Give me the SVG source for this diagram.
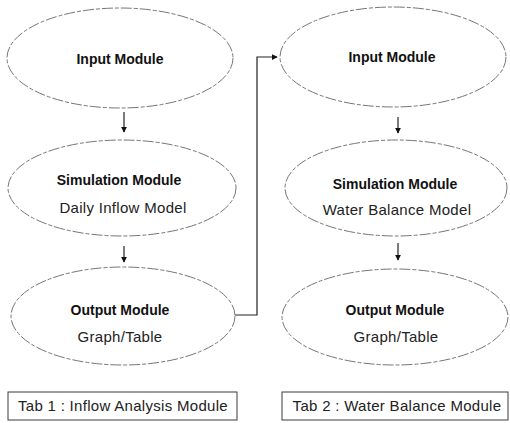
<svg xmlns="http://www.w3.org/2000/svg" width="510" height="423" viewBox="0 0 510 423">
<style>
.ell{fill:#fff;stroke:#767676;stroke-width:1;stroke-dasharray:11 2 4 2}
.box{fill:#fff;stroke:#3a3a3a;stroke-width:1}
.b{font-family:"Liberation Sans",Arial,sans-serif;font-size:14px;font-weight:bold;fill:#111;text-anchor:middle}
.r{font-family:"Liberation Sans",Arial,sans-serif;font-size:15px;fill:#222;text-anchor:middle;letter-spacing:0.3px}
.con{fill:none;stroke:#222;stroke-width:1.2}
</style>
<defs>
<marker id="ah" viewBox="0 0 8 8" refX="7" refY="4" markerWidth="6" markerHeight="6" markerUnits="userSpaceOnUse" orient="auto">
<path d="M0,0 L8,4 L0,8 z" fill="#111"/>
</marker>
</defs>
<rect width="510" height="423" fill="#fff"/>
<g id="connectors">
<line class="con" x1="124" y1="112" x2="124" y2="132" marker-end="url(#ah)"/>
<line class="con" x1="124" y1="246" x2="124" y2="262" marker-end="url(#ah)"/>
<line class="con" x1="398" y1="117" x2="398" y2="133" marker-end="url(#ah)"/>
<line class="con" x1="398" y1="243" x2="398" y2="260" marker-end="url(#ah)"/>
<polyline class="con" points="235,315 257,315 257,57 277,57" marker-end="url(#ah)"/>
</g>
<g id="left-input">
<ellipse class="ell" cx="120" cy="58" rx="113" ry="50"/>
<text class="b" x="120" y="64">Input Module</text>
</g>
<g id="left-simulation">
<ellipse class="ell" cx="122" cy="188" rx="114" ry="48"/>
<text class="b" x="119" y="185">Simulation Module</text>
<text class="r" x="123" y="213">Daily Inflow Model</text>
</g>
<g id="left-output">
<ellipse class="ell" cx="123" cy="316" rx="112" ry="49"/>
<text class="b" x="120" y="315">Output Module</text>
<text class="r" x="120" y="342">Graph/Table</text>
</g>
<g id="right-input">
<ellipse class="ell" cx="393" cy="57" rx="113" ry="50"/>
<text class="b" x="392" y="62">Input Module</text>
</g>
<g id="right-simulation">
<ellipse class="ell" cx="396" cy="188" rx="111" ry="48"/>
<text class="b" x="395" y="189">Simulation Module</text>
<text class="r" x="397" y="215">Water Balance Model</text>
</g>
<g id="right-output">
<ellipse class="ell" cx="395" cy="317" rx="113" ry="48"/>
<text class="b" x="395" y="315">Output Module</text>
<text class="r" x="396" y="342">Graph/Table</text>
</g>
<g id="tab1">
<rect class="box" x="8" y="392" width="229" height="28"/>
<text class="r" x="123" y="411">Tab 1 : Inflow Analysis Module</text>
</g>
<g id="tab2">
<rect class="box" x="282" y="392" width="226" height="28"/>
<text class="r" x="397" y="411">Tab 2 : Water Balance Module</text>
</g>
</svg>
